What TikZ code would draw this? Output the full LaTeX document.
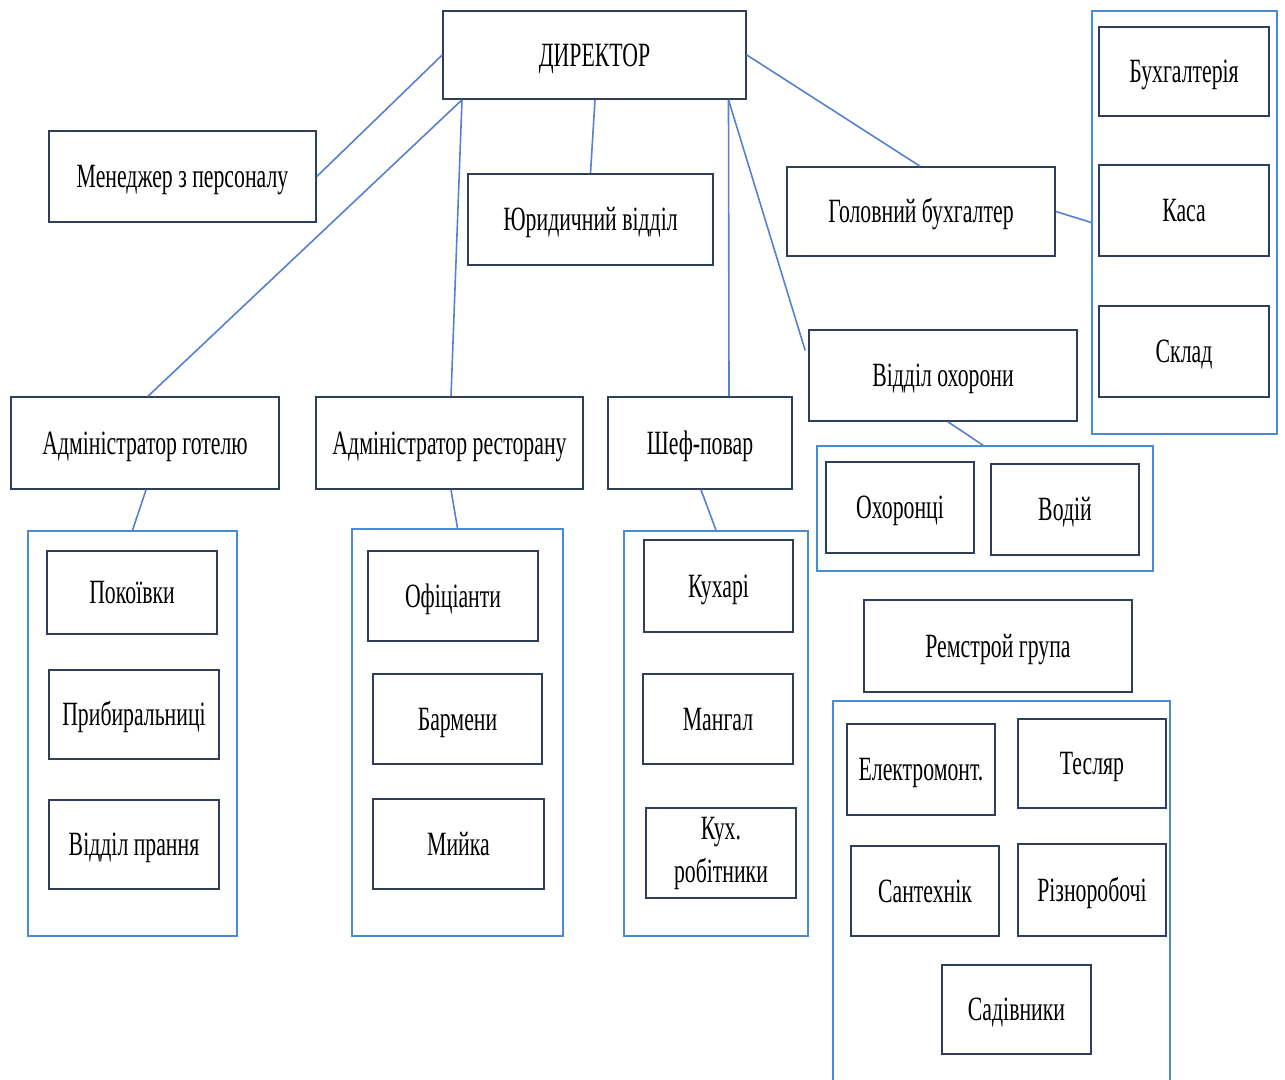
\documentclass[tikz,border=0pt]{standalone}
\usepackage{fontspec}
\setmainfont{Liberation Serif}[FakeStretch=0.64]
\definecolor{boxline}{RGB}{47,62,92}
\definecolor{contline}{RGB}{74,139,212}
\definecolor{connline}{RGB}{88,128,208}
\begin{document}
\begin{tikzpicture}[x=1pt,y=-1pt,
  box/.style={draw=boxline,line width=1.6pt,rectangle,inner sep=0pt,align=center,
    text height=22.5pt,text depth=0pt,
    font=\fontsize{34}{40}\selectfont},
  cont/.style={draw=contline,line width=1.5pt,rectangle,inner sep=0pt},
  conn/.style={draw=connline,line width=1.6pt}]
\useasboundingbox (0,0) rectangle (1285,1079);
% top level
\node[box,minimum width=303pt,minimum height=88pt] (dir) at (594.5,55) {ДИРЕКТОР};
\node[box,minimum width=267pt,minimum height=91pt] (men) at (182.5,176.5) {Менеджер з персоналу};
\node[box,minimum width=245pt,minimum height=91pt] (yur) at (590.5,219.5) {Юридичний відділ};
\node[box,minimum width=268pt,minimum height=89pt] (gb) at (921,211.5) {Головний бухгалтер};
% accounting group
\node[cont,minimum width=185pt,minimum height=423pt] (cright) at (1184.5,222.5) {};
\node[box,minimum width=170pt,minimum height=89pt] (buh) at (1184,71.5) {Бухгалтерія};
\node[box,minimum width=170pt,minimum height=91pt] (kasa) at (1184,210.5) {Каса};
\node[box,minimum width=170pt,minimum height=91pt] (sklad) at (1184,351.5) {Склад};
% security
\node[box,minimum width=268pt,minimum height=91pt] (ohor) at (943,375.5) {Відділ охорони};
\node[cont,minimum width=336pt,minimum height=125pt] (cohor) at (985,508.5) {};
\node[box,minimum width=148pt,minimum height=91pt] (ohr) at (900,507.5) {Охоронці};
\node[box,minimum width=148pt,minimum height=91pt] (vod) at (1065,509.5) {Водій};
% repair group
\node[box,minimum width=268pt,minimum height=92pt] (rem) at (998,646) {Ремстрой група};
\draw[contline,line width=1.5pt] (833,1085) -- (833,701) -- (1170,701) -- (1170,1085);
\node[box,minimum width=148pt,minimum height=91pt] (el) at (921,769.5) {Електромонт.};
\node[box,minimum width=148pt,minimum height=89pt] (tes) at (1092,763.5) {Тесляр};
\node[box,minimum width=148pt,minimum height=90pt] (san) at (925,891) {Сантехнік};
\node[box,minimum width=148pt,minimum height=92pt] (riz) at (1092,890) {Різноробочі};
\node[box,minimum width=149pt,minimum height=89pt] (sad) at (1016.5,1009.5) {Садівники};
% hotel
\node[box,minimum width=268pt,minimum height=92pt] (ag) at (145,443) {Адміністратор готелю};
\node[cont,minimum width=209pt,minimum height=405pt] (cag) at (132.5,733.5) {};
\node[box,minimum width=170pt,minimum height=83pt] (pok) at (132,592.5) {Покоївки};
\node[box,minimum width=170pt,minimum height=89pt] (prib) at (134,714.5) {Прибиральниці};
\node[box,minimum width=170pt,minimum height=89pt] (pran) at (134,844.5) {Відділ прання};
% restaurant
\node[box,minimum width=267pt,minimum height=92pt] (ar) at (449.5,443) {Адміністратор ресторану};
\node[cont,minimum width=211pt,minimum height=407pt] (car) at (457.5,732.5) {};
\node[box,minimum width=170pt,minimum height=90pt] (ofi) at (453,596) {Офіціанти};
\node[box,minimum width=169pt,minimum height=90pt] (bar) at (457.5,719) {Бармени};
\node[box,minimum width=171pt,minimum height=90pt] (miy) at (458.5,844) {Мийка};
% chef
\node[box,minimum width=184pt,minimum height=92pt] (shef) at (700,443) {Шеф-повар};
\node[cont,minimum width=184pt,minimum height=405pt] (cshef) at (716,733.5) {};
\node[box,minimum width=149pt,minimum height=92pt] (kuh) at (718.5,586) {Кухарі};
\node[box,minimum width=150pt,minimum height=90pt] (man) at (718,719) {Мангал};
\node[box,minimum width=150pt,minimum height=90pt,text height=,text depth=,
  font=\fontsize{34}{43}\selectfont] (kr) at (721,853) {\raisebox{-4pt}{Кух.}\\\raisebox{-4pt}{робітники}};
% connectors
\draw[conn] (dir.west) -- (men.east);
\draw[conn] ([xshift=-132.5pt]dir.south) -- ([xshift=3pt]ag.north);
\draw[conn] ([xshift=-132.5pt]dir.south) -- ([xshift=1.5pt]ar.north);
\draw[conn] ([xshift=0.5pt]dir.south) -- (yur.north);
\draw[conn] ([xshift=134pt]dir.south) -- ([xshift=29pt]shef.north);
\draw[conn] ([xshift=134pt]dir.south) -- ([xshift=-3pt,yshift=25pt]ohor.west);
\draw[conn] (dir.east) -- ([xshift=-1pt]gb.north);
\draw[conn] (gb.east) -- (cright.west);
\draw[conn] ([xshift=5pt]ohor.south) -- ([xshift=-2pt]cohor.north);
\draw[conn] ([xshift=1pt]ag.south) -- (cag.north);
\draw[conn] ([xshift=1.5pt]ar.south) -- (car.north);
\draw[conn] ([xshift=1pt]shef.south) -- (cshef.north);
\end{tikzpicture}
\end{document}
